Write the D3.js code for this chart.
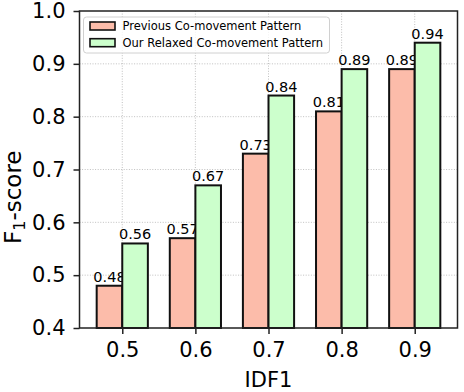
<!DOCTYPE html>
<html>
<head>
<meta charset="utf-8">
<script src="https://cdn.jsdelivr.net/npm/d3@7"></script>
<style>
  body { margin: 0; background: #fff; }
  svg { font-family: "DejaVu Sans", sans-serif; }
</style>
</head>
<body>
<svg id="chart" width="464" height="392"></svg>
<script>
// data
const categories = ["0.5", "0.6", "0.7", "0.8", "0.9"];
const seriesNames = ["Previous Co-movement Pattern", "Our Relaxed Co-movement Pattern"];
const previous = [0.48, 0.57, 0.73, 0.81, 0.89];
const relaxed = [0.56, 0.67, 0.84, 0.89, 0.94];
const yTicks = [0.4, 0.5, 0.6, 0.7, 0.8, 0.9, 1.0];

const colors = ["#fcbcaa", "#ccffcc"];
const series = [previous, relaxed];

const svg = d3.select("#chart");
const margin = { top: 11, right: 6.5, bottom: 64, left: 79.5 };
const width = 464 - margin.left - margin.right;
const height = 392 - margin.top - margin.bottom;

const barW = 0.35;
// x positions 0..n-1, same padding as matplotlib's 5% margin
const x = d3.scaleLinear()
  .domain([-barW - 0.235, categories.length - 1 + barW + 0.235])
  .range([0, width]);
const y = d3.scaleLinear().domain([0.4, 1.0]).range([height, 0]);

const g = svg.append("g").attr("transform", `translate(${margin.left},${margin.top})`);

// grid
g.append("g").selectAll("line").data(yTicks.slice(1, -1)).join("line")
  .attr("x1", 0).attr("x2", width)
  .attr("y1", d => y(d)).attr("y2", d => y(d))
  .attr("stroke", "#b0b0b0").attr("stroke-width", 0.8).attr("stroke-dasharray", "1,1.6");
g.append("g").selectAll("line").data(categories).join("line")
  .attr("x1", (d, i) => x(i)).attr("x2", (d, i) => x(i))
  .attr("y1", 0).attr("y2", height)
  .attr("stroke", "#b0b0b0").attr("stroke-width", 0.8).attr("stroke-dasharray", "1,1.6");

// bars
series.forEach((vals, s) => {
  const off = s === 0 ? -barW : 0;
  g.append("g").selectAll("rect").data(vals).join("rect")
    .attr("x", (d, i) => x(i + off))
    .attr("y", d => y(d))
    .attr("width", x(barW) - x(0))
    .attr("height", d => y(0.4) - y(d))
    .attr("fill", colors[s])
    .attr("stroke", "#111").attr("stroke-width", 2);
  g.append("g").selectAll("text").data(vals).join("text")
    .attr("x", (d, i) => x(i + off + barW / 2))
    .attr("y", d => y(d) - 4)
    .attr("text-anchor", "middle")
    .attr("font-size", 14.5)
    .attr("fill", "#000")
    .text(d => d.toFixed(2));
});

// axes
const xAxis = g.append("g").attr("transform", `translate(0,${height})`)
  .call(d3.axisBottom(x).tickValues(d3.range(categories.length)).tickFormat(i => categories[i]).tickSize(6).tickPadding(5));
const yAxis = g.append("g")
  .call(d3.axisLeft(y).tickValues(yTicks).tickFormat(d3.format(".1f")).tickSize(6).tickPadding(8));
[xAxis, yAxis].forEach(a => {
  a.select(".domain").remove();
  a.selectAll("line").attr("stroke", "#222").attr("stroke-width", 1.5);
  a.selectAll("text").attr("font-size", 21).attr("fill", "#000")
    .attr("font-family", "DejaVu Sans, sans-serif");
});
xAxis.selectAll("text").attr("y", 29).attr("dy", null);

// frame
g.append("rect").attr("width", width).attr("height", height)
  .attr("fill", "none").attr("stroke", "#222").attr("stroke-width", 1.5);

// axis titles
svg.append("text")
  .attr("x", x(2) + margin.left).attr("y", 387)
  .attr("text-anchor", "middle").attr("font-size", 21).text("IDF1");

const yl = svg.append("text")
  .attr("transform", "translate(21,244) rotate(-90)")
  .attr("text-anchor", "start").attr("font-size", 23);
yl.append("tspan").text("F");
yl.append("tspan").attr("font-size", 16).attr("dy", 4).text("1");
yl.append("tspan").attr("dy", -4).text("-score");

// legend
const leg = g.append("g").attr("transform", "translate(4,6)");
leg.append("rect").attr("width", 246).attr("height", 36).attr("rx", 3)
  .attr("fill", "#fff").attr("fill-opacity", 0.8)
  .attr("stroke", "#d0d0d0").attr("stroke-width", 1);
seriesNames.forEach((name, s) => {
  const row = leg.append("g").attr("transform", `translate(0,${9 + s * 16.7})`);
  row.append("rect").attr("x", 6.5).attr("y", -4).attr("width", 25).attr("height", 8)
    .attr("fill", colors[s]).attr("stroke", "#111").attr("stroke-width", 1.6);
  row.append("text").attr("x", 39).attr("y", 4.2).attr("font-size", 11.5).text(name);
});
</script>
</body>
</html>
